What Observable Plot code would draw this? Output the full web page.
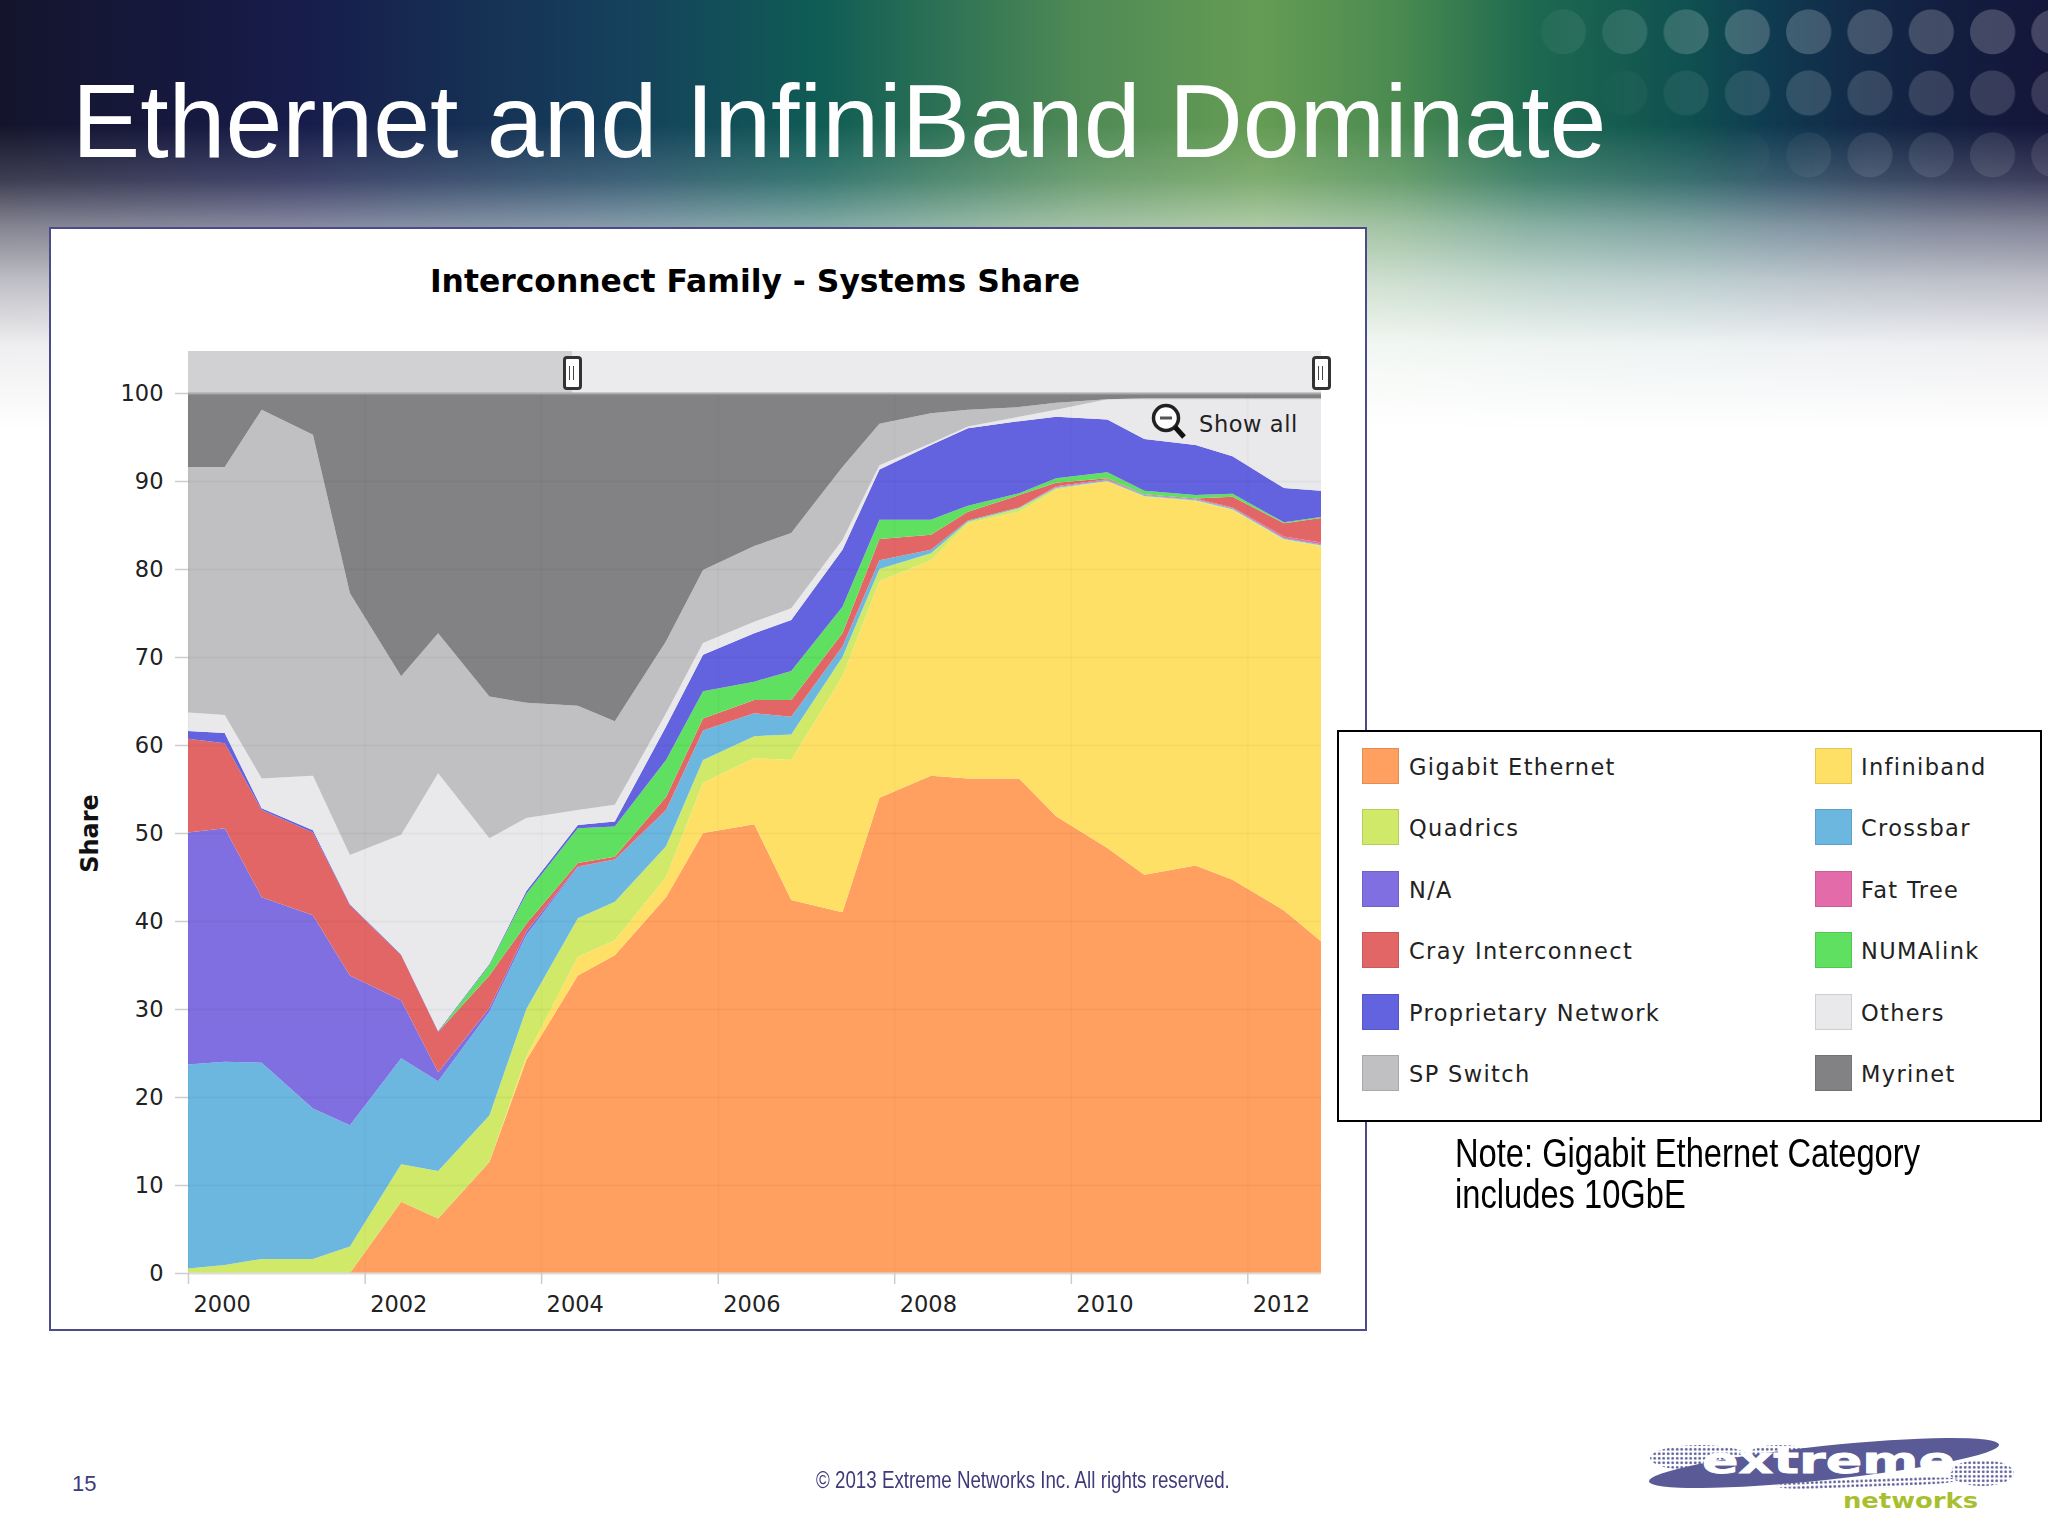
<!DOCTYPE html>
<html><head><meta charset="utf-8">
<script src="https://cdn.jsdelivr.net/npm/d3@7"></script>
<script src="https://cdn.jsdelivr.net/npm/@observablehq/plot@0.6"></script>
<style>
html,body{margin:0;padding:0;background:#fff}
#slide{position:relative;width:2048px;height:1536px;overflow:hidden;background:#fff;font-family:"Liberation Sans",Arial,sans-serif}
#slide>*{position:absolute}
#bg{left:0;top:0;width:2048px;height:620px;background:linear-gradient(90deg,#14142c 0,#171c4a 300px,#15405c 620px,#0f5c55 820px,#4f8a55 1080px,#659c54 1260px,#4a8a50 1400px,#1e6a50 1530px,#0f5050 1690px,#0f3a50 1772px,#122a48 1855px,#131f40 1937px,#14163a 2048px)}
.dots{left:1533px;width:515px;height:61.3px;background-image:radial-gradient(circle 23px at 30.5px 32px,rgba(255,255,255,.2) 0,rgba(255,255,255,.2) 96%,rgba(255,255,255,0) 100%);background-size:61.3px 61.3px}
#fade{left:0;top:0;width:2048px;height:620px;background:linear-gradient(180deg,rgba(255,255,255,0) 0,rgba(255,255,255,0) 125px,rgba(255,255,255,.18) 180px,rgba(255,255,255,.47) 225px,rgba(255,255,255,.72) 280px,rgba(255,255,255,.93) 345px,#fff 430px)}
#title{left:72px;top:61px;font-size:104px;line-height:120px;color:#fff;white-space:nowrap;transform-origin:0 0;transform:scaleX(.983)}
#frame{left:49px;top:227px;width:1314px;height:1100px;background:#fff;border:2px solid #4c4a88}
#plotTitle{left:0;width:1510px;top:263px;text-align:center;font:bold 31.4px "DejaVu Sans",sans-serif;color:#000;white-space:nowrap}
#plotHost{left:50px;top:228px}
#nav1{left:188px;top:351px;width:384px;height:42px;background:#d1d0d3}
#nav2{left:572px;top:351px;width:749px;height:42px;background:#ebeaed}
.handle{width:13px;height:28px;top:356px;background:#fff;border:3px solid #333;border-radius:4px;box-sizing:content-box}
.handle:after{content:"";position:absolute;left:3px;top:7px;width:3px;height:14px;border-left:1.5px solid #444;border-right:1.5px solid #444}
#showAll{left:1199px;top:411px;font:22.5px "DejaVu Sans",sans-serif;letter-spacing:.6px;color:#222;white-space:nowrap}
#zoomIcon{left:1150px;top:402px}
#legend{left:1337px;top:730px;width:701px;height:388px;background:#fff;border:2.5px solid #000}
.sw{width:35px;height:34px;border:1.5px solid}
.lab{font:22.5px "DejaVu Sans",sans-serif;letter-spacing:1.35px;color:#222;white-space:nowrap;line-height:30px}
#note{left:1455px;top:1133px;font-size:41px;line-height:40.5px;color:#000;white-space:nowrap;transform-origin:0 0;transform:scaleX(.797)}
#page{left:72px;top:1471px;font-size:22px;color:#3f3a7a}
#copy{left:816px;top:1466px;font-size:24.5px;color:#3f3a7a;white-space:nowrap;transform-origin:0 0;transform:scaleX(.765)}
#logo{left:1630px;top:1420px}
</style></head>
<body><div id="slide">
<div id="bg"></div>
<div class="dots" style="top:0;-webkit-mask-image:linear-gradient(90deg,rgba(0,0,0,.15) 0,#000 190px);mask-image:linear-gradient(90deg,rgba(0,0,0,.15) 0,#000 190px)"></div>
<div class="dots" style="top:61.3px;opacity:.75;-webkit-mask-image:linear-gradient(90deg,transparent 60px,#000 270px);mask-image:linear-gradient(90deg,transparent 60px,#000 270px)"></div>
<div class="dots" style="top:122.6px;opacity:.5;-webkit-mask-image:linear-gradient(90deg,transparent 200px,#000 340px);mask-image:linear-gradient(90deg,transparent 200px,#000 340px)"></div>
<div id="fade"></div>
<div id="title">Ethernet and InfiniBand Dominate</div>
<div id="frame"></div>
<div id="plotTitle">Interconnect Family - Systems Share</div>
<div id="nav1"></div><div id="nav2"></div>
<div id="plotHost"></div>
<div class="handle" style="left:563px"></div><div class="handle" style="left:1312px"></div>
<svg id="zoomIcon" width="40" height="40" viewBox="0 0 40 40"><circle cx="16" cy="16" r="12.5" fill="#fff" stroke="#222" stroke-width="3.5"/><rect x="10" y="14.5" width="12" height="3" fill="#555"/><line x1="25" y1="25" x2="34" y2="35" stroke="#111" stroke-width="5"/></svg>
<div id="showAll">Show all</div>
<div id="legend"></div>
<div id="note">Note: Gigabit Ethernet Category<br>includes 10GbE</div>
<div id="page">15</div>
<div id="copy">© 2013 Extreme Networks Inc. All rights reserved.</div>
<svg id="logo" width="400" height="110" viewBox="0 0 400 110">
<defs><pattern id="ht" width="4.5" height="4.5" patternUnits="userSpaceOnUse"><circle cx="2.2" cy="2.2" r="1.4" fill="#5b5b99"/></pattern></defs>
<ellipse cx="70" cy="38" rx="50" ry="13" fill="url(#ht)"/>
<ellipse cx="150" cy="33" rx="30" ry="8" fill="url(#ht)"/>
<ellipse cx="352" cy="53" rx="32" ry="13" fill="url(#ht)"/>
<ellipse cx="237" cy="63" rx="92" ry="5" transform="rotate(-2 237 63)" fill="url(#ht)"/>
<ellipse cx="194" cy="43" rx="176" ry="17" transform="rotate(-6 194 43)" fill="#5a5a97"/>
<text x="72" y="53" font-family="DejaVu Sans" font-weight="bold" font-size="36" fill="#fff" stroke="#fff" stroke-width=".8" textLength="253" lengthAdjust="spacingAndGlyphs">extreme</text>
<text x="213" y="88" font-family="DejaVu Sans" font-weight="bold" font-size="21" fill="#a8c030" textLength="135" lengthAdjust="spacingAndGlyphs">networks</text>
</svg>
</div>
<script>
const listDates = ["2000-01-01","2000-06-01","2000-11-01","2001-06-01","2001-11-01","2002-06-01","2002-11-01","2003-06-01","2003-11-01","2004-06-01","2004-11-01","2005-06-01","2005-11-01","2006-06-01","2006-11-01","2007-06-01","2007-11-01","2008-06-01","2008-11-01","2009-06-01","2009-11-01","2010-06-01","2010-11-01","2011-06-01","2011-11-01","2012-06-01","2012-11-01"];

// Upper edge of each family's band, in percent.
const gigabitTop     = [0,0,0,0,0,8.1,6.2,12.6,24.2,33.8,36.1,42.7,50,51,42.4,41,54,56.5,56.2,56.2,51.9,48.3,45.25,46.3,44.7,41.2,37.7];
const infinibandTop  = [0,0,0,0,0,8.1,6.2,12.6,24.6,35.9,37.8,45,55.7,58.5,58.3,67.8,78.6,81,85.2,86.5,89,90,88.2,87.7,86.7,83.3,82.6];
const quadricsTop    = [0.5,0.9,1.6,1.6,3,12.35,11.6,17.9,30,40.3,42.2,48.5,58.3,61,61.2,70,80,81.8,85.4,86.9,89.2,90,88.3,87.8,86.8,83.4,82.7];
const crossbarTop    = [23.7,24,23.9,18.7,16.8,24.4,21.8,29.7,38.4,46.1,47,52.6,61.65,63.6,63.2,71.2,81,82.2,85.5,87,89.3,90.1,88.4,87.9,86.9,83.5,82.8];
const naTop          = [50.05,50.55,42.7,40.65,33.8,31,22.8,30.1,38.8,46.2,47,52.6,61.65,63.6,63.2,71.2,81,82.2,85.5,87,89.3,90.1,88.4,87.9,86.9,83.5,82.8];
const fatTreeTop     = [50.05,50.55,42.7,40.65,33.8,31,22.8,30.1,38.8,46.2,47,52.6,61.65,63.6,63.2,71.2,81,82.2,85.5,87,89.4,90.2,88.5,88,87,83.7,83];
const crayTop        = [60.7,60.2,52.6,50.05,41.8,36.1,27.4,33.8,39.7,46.6,47.3,54.1,63,65.1,65.1,72.7,83.4,83.9,86.5,88.4,89.8,90.3,88.5,88,88.2,85.2,85.8];
const numalinkTop    = [60.7,60.2,52.6,50.05,41.8,36.1,27.4,35,43.1,50.55,50.75,58.3,66.1,67.2,68.4,75.7,85.6,85.6,87.2,88.6,90.3,91,88.9,88.4,88.55,85.3,85.9];
const proprietaryTop = [61.6,61.35,52.8,50.3,41.9,36.2,27.5,35.1,43.4,50.9,51.3,62.1,70.25,72.7,74.2,82.2,91.3,94.1,96,96.8,97.3,97,94.76,94.1,92.8,89.2,88.9];
const othersTop      = [63.7,63.4,56.2,56.5,47.5,49.8,56.8,49.4,51.7,52.6,53.2,63.6,71.6,74,75.55,83.3,91.8,94.3,96.2,97.3,98.1,99.3,99.3,99.3,99.3,99.3,99.3];
const spSwitchTop    = [91.6,91.6,98.1,95.25,77.25,67.8,72.7,65.5,64.8,64.45,62.7,71.8,79.9,82.6,84.1,91.6,96.5,97.7,98.1,98.4,98.9,99.3,99.4,99.4,99.4,99.4,99.4];
const myrinetTop     = [100,100,100,100,100,100,100,100,100,100,100,100,100,100,100,100,100,100,100,100,100,100,100,100,100,100,100];

const families = ["Gigabit Ethernet","Infiniband","Quadrics","Crossbar","N/A","Fat Tree","Cray Interconnect","NUMAlink","Proprietary Network","Others","SP Switch","Myrinet"];
const tops = [gigabitTop,infinibandTop,quadricsTop,crossbarTop,naTop,fatTreeTop,crayTop,numalinkTop,proprietaryTop,othersTop,spSwitchTop,myrinetTop];
const colors = ["#FFA060","#FFE066","#D0E968","#6CB7E0","#7F6FE0","#E36BAA","#E26666","#60E060","#6363E0","#E9E8EA","#C0BFC2","#828184"];
const legendOrder = [["Gigabit Ethernet","Quadrics","N/A","Cray Interconnect","Proprietary Network","SP Switch"],["Infiniband","Crossbar","Fat Tree","NUMAlink","Others","Myrinet"]];
const yTicks = [0,10,20,30,40,50,60,70,80,90,100];
const xTickYears = [2000,2002,2004,2006,2008,2010,2012];

const dates = listDates.map(d => new Date(d + "T00:00:00Z"));
const xTicks = xTickYears.map(y => new Date(Date.UTC(y,0,1)));
const rows = families.flatMap((family,k) => dates.map((date,i) => ({
  date, family, share: tops[k][i] - (k ? tops[k-1][i] : 0)
})));

const chart = Plot.plot({
  width: 1313, height: 1100,
  marginLeft: 138, marginRight: 42, marginTop: 165, marginBottom: 55,
  style: {background: "transparent", overflow: "visible", fontFamily: "DejaVu Sans", fontSize: "22.5px", color: "#222"},
  x: {type: "utc", domain: [dates[0], dates[dates.length-1]]},
  y: {domain: [0,100]},
  color: {domain: families, range: colors},
  marks: [
    Plot.areaY(rows, {x: "date", y: "share", z: "family", fill: "family", order: families, curve: "linear"}),
    Plot.ruleY(yTicks, {stroke: "#000", strokeOpacity: 0.035, strokeWidth: 2}),
    Plot.ruleX(xTicks, {stroke: "#000", strokeOpacity: 0.02, strokeWidth: 2}),
    Plot.ruleY([100], {stroke: "#aaa", strokeWidth: 2}),
    Plot.ruleY([0], {stroke: "#ddd", strokeWidth: 2}),
    Plot.axisX({ticks: xTicks, text: null, tickSize: 11, stroke: "#ccc", label: null, strokeWidth: 1.5}),
    Plot.axisX({ticks: xTicks, tickFormat: d => String(d.getUTCFullYear()), tickSize: 0, tickPadding: 23, textAnchor: "start", dx: 5, label: null, fill: "#222", fontSize: 22.5}),
    Plot.axisY({ticks: yTicks, tickSize: 13, stroke: "#ccc", tickPadding: 12, label: null, fill: "#222", fontSize: 22.5, strokeWidth: 1.5}),
    Plot.text(["Share"], {frameAnchor: "left", textAnchor: "middle", dx: -98, dy: 0, rotate: -90, fontWeight: "bold", fontSize: 24, fill: "#111"})
  ]
});
document.getElementById("plotHost").appendChild(chart);

const slide = document.getElementById("slide");
legendOrder.forEach((col,c) => col.forEach((name,r) => {
  const sw = document.createElement("div");
  const color = colors[families.indexOf(name)];
  sw.className = "sw";
  sw.style.cssText = `left:${[1362,1815][c]}px;top:${748+r*61.4}px;background:${color};border-color:${d3.color(color).darker(0.35)}`;
  slide.appendChild(sw);
  const lab = document.createElement("div");
  lab.className = "lab";
  lab.textContent = name;
  lab.style.cssText = `left:${[1409,1861][c]}px;top:${752+r*61.4}px`;
  slide.appendChild(lab);
}));
</script>
</body></html>
